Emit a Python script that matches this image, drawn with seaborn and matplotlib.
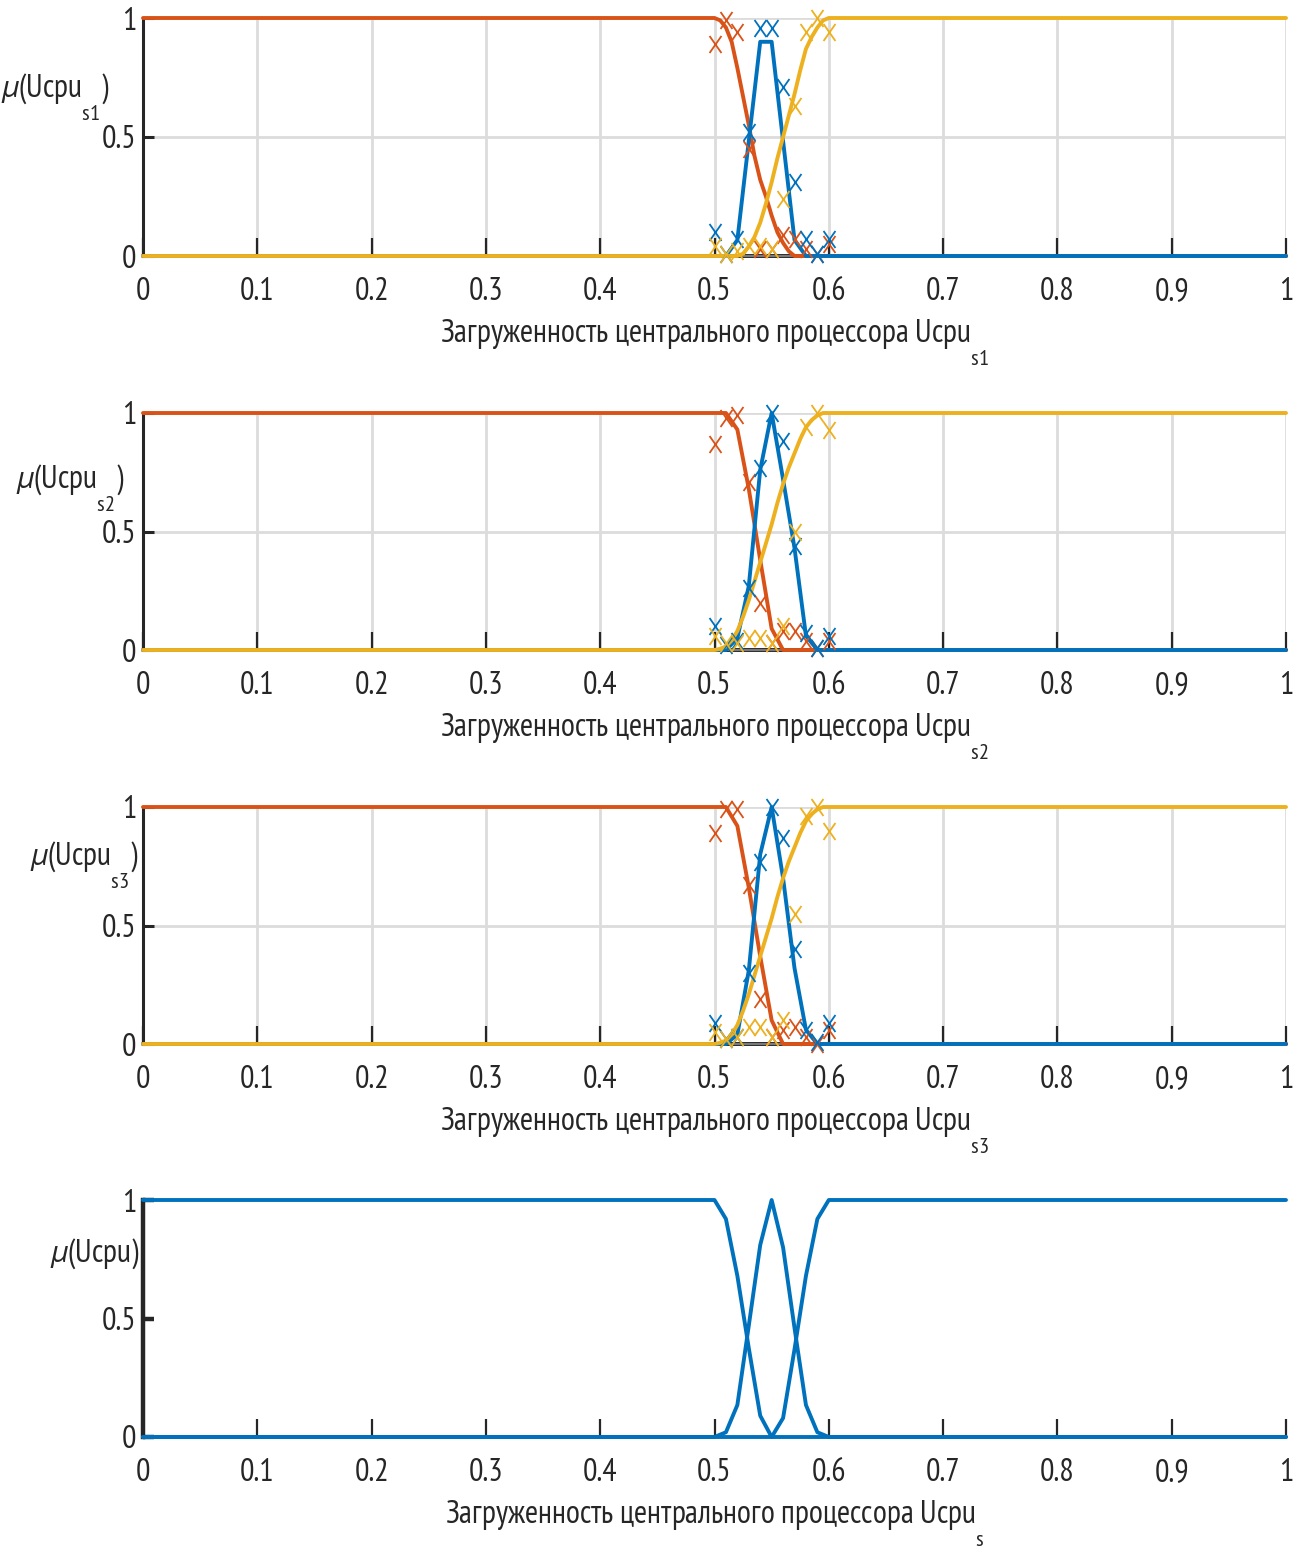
import numpy as np
import pandas as pd
import matplotlib
matplotlib.use("Agg")
import matplotlib.pyplot as plt
from matplotlib.path import Path
from matplotlib.markers import MarkerStyle
from matplotlib import font_manager as fm
import seaborn as sns

# ---------------- data ----------------
x_ticks = [0, 0.1, 0.2, 0.3, 0.4, 0.5, 0.6, 0.7, 0.8, 0.9, 1]
x_tick_labels = ["0", "0.1", "0.2", "0.3", "0.4", "0.5", "0.6", "0.7", "0.8", "0.9", "1"]
y_ticks = [0, 0.5, 1]
y_tick_labels = ["0", "0.5", "1"]
subscripts = ["s1", "s2", "s3", "s"]
xlabel_text = "Загруженность центрального процессора Ucpu"

# sampled points (markers) at 0.50 ... 0.60
marker_x = [0.50, 0.51, 0.52, 0.53, 0.54, 0.55, 0.56, 0.57, 0.58, 0.59, 0.60]

# panel 1
p1_orange_x = [0, 0.5, 0.505, 0.51, 0.515, 0.52, 0.525, 0.53, 0.535, 0.54, 0.545, 0.55, 0.555, 0.56, 0.565, 0.57, 1]
p1_orange_y = [1, 1, 0.99, 0.96, 0.9, 0.79, 0.67, 0.55, 0.42, 0.32, 0.25, 0.17, 0.1, 0.055, 0.02, 0, 0]
p1_blue_x = [0, 0.51, 0.52, 0.54, 0.55, 0.57, 0.58, 1]
p1_blue_y = [0, 0, 0.067, 0.9, 0.9, 0.067, 0.0, 0]
p1_yellow_x = [0, 0.52, 0.525, 0.53, 0.535, 0.54, 0.545, 0.55, 0.555, 0.56, 0.565, 0.57, 0.575, 0.58, 0.585, 0.59, 0.595, 0.6, 1]
p1_yellow_y = [0, 0, 0.01, 0.04, 0.08, 0.14, 0.22, 0.31, 0.41, 0.5, 0.59, 0.68, 0.78, 0.87, 0.92, 0.96, 0.99, 1, 1]
p1_orange_m = [0.89, 0.99, 0.94, 0.45, 0.03, 0.03, 0.09, 0.07, 0.03, 0.01, 0.05]
p1_blue_m = [0.1, 0.01, 0.07, 0.52, 0.96, 0.96, 0.71, 0.31, 0.07, 0.01, 0.07]
p1_yellow_m = [0.04, 0.01, 0.02, 0.04, 0.04, 0.03, 0.24, 0.63, 0.94, 1.0, 0.94]

# panel 2
p2_orange_x = [0, 0.51, 0.52, 0.53, 0.54, 0.55, 0.56, 1]
p2_orange_y = [1, 1, 0.93, 0.68, 0.38, 0.09, 0, 0]
p2_blue_x = [0, 0.51, 0.52, 0.53, 0.54, 0.55, 0.56, 0.57, 0.58, 0.59, 1]
p2_blue_y = [0, 0, 0.05, 0.27, 0.76, 1.0, 0.72, 0.43, 0.06, 0.0, 0]
p2_yellow_x = [0, 0.5, 0.505, 0.51, 0.515, 0.52, 0.525, 0.53, 0.535, 0.54, 0.545, 0.55, 0.555, 0.56, 0.565, 0.57, 0.575, 0.58, 0.585, 0.59, 0.595, 0.6, 1]
p2_yellow_y = [0, 0, 0.005, 0.015, 0.04, 0.08, 0.14, 0.21, 0.29, 0.37, 0.45, 0.53, 0.62, 0.7, 0.77, 0.83, 0.89, 0.94, 0.97, 0.99, 1.0, 1, 1]
p2_orange_m = [0.87, 0.98, 0.99, 0.71, 0.2, 0.03, 0.08, 0.08, 0.04, 0.01, 0.04]
p2_blue_m = [0.1, 0.02, 0.04, 0.26, 0.77, 1.0, 0.88, 0.44, 0.07, 0.01, 0.06]
p2_yellow_m = [0.06, 0.03, 0.03, 0.05, 0.05, 0.03, 0.1, 0.5, 0.94, 1.0, 0.93]

# panel 3
p3_orange_x = [0, 0.51, 0.52, 0.53, 0.54, 0.55, 0.56, 1]
p3_orange_y = [1, 1, 0.92, 0.66, 0.37, 0.1, 0, 0]
p3_blue_x = [0, 0.51, 0.52, 0.53, 0.54, 0.55, 0.56, 0.57, 0.58, 0.59, 1]
p3_blue_y = [0, 0, 0.04, 0.31, 0.8, 1.0, 0.7, 0.32, 0.06, 0.0, 0]
p3_yellow_x = [0, 0.5, 0.505, 0.51, 0.515, 0.52, 0.525, 0.53, 0.535, 0.54, 0.545, 0.55, 0.555, 0.56, 0.565, 0.57, 0.575, 0.58, 0.585, 0.59, 0.595, 0.6, 1]
p3_yellow_y = [0, 0, 0.005, 0.015, 0.04, 0.08, 0.14, 0.21, 0.29, 0.37, 0.45, 0.53, 0.62, 0.7, 0.77, 0.83, 0.89, 0.94, 0.97, 0.99, 1.0, 1, 1]
p3_orange_m = [0.89, 0.99, 0.99, 0.67, 0.19, 0.03, 0.06, 0.07, 0.03, 0.0, 0.06]
p3_blue_m = [0.09, 0.02, 0.03, 0.3, 0.77, 1.0, 0.87, 0.4, 0.06, 0.01, 0.09]
p3_yellow_m = [0.05, 0.02, 0.03, 0.07, 0.07, 0.03, 0.1, 0.55, 0.96, 1.0, 0.9]

# panel 4 (aggregated terms)
p4_low_x = [0, 0.5, 0.51, 0.52, 0.53, 0.54, 0.55, 1]
p4_low_y = [1, 1, 0.92, 0.68, 0.375, 0.09, 0, 0]
p4_mid_x = [0, 0.5, 0.51, 0.52, 0.53, 0.54, 0.55, 0.56, 0.57, 0.58, 0.59, 0.6, 1]
p4_mid_y = [0, 0, 0.02, 0.135, 0.47, 0.81, 1.0, 0.8, 0.46, 0.135, 0.02, 0, 0]
p4_high_x = [0, 0.55, 0.56, 0.57, 0.58, 0.59, 0.6, 1]
p4_high_y = [0, 0, 0.08, 0.37, 0.68, 0.92, 1, 1]

zero_x = [0, 1]
zero_y = [0, 0]

# ---------------- style ----------------
BLUE = "#0072BD"
ORANGE = "#D95319"
YELLOW = "#EDB120"
DARK = "#262626"
GRID = "#dcdcdc"

sns.set_theme(style="white")

_names = {f.name for f in fm.fontManager.ttflist}
if "PT Sans Narrow" in _names:
    CHOSEN, FS = "PT Sans Narrow", 23.0
elif "Roboto Condensed" in _names:
    CHOSEN, FS = "Roboto Condensed", 20.5
else:
    CHOSEN, FS = "Liberation Sans", 19.5
ITAL = "PT Sans" if "PT Sans" in _names else CHOSEN

FONT = [CHOSEN, "Liberation Sans", "DejaVu Sans"]
plt.rcParams["font.family"] = FONT
plt.rcParams["mathtext.fontset"] = "custom"
plt.rcParams["mathtext.rm"] = CHOSEN
plt.rcParams["mathtext.it"] = ITAL + ":italic"

# MATLAB-like deep subscripts
try:
    import matplotlib._mathtext as _mt
    _mt.FontConstantsBase.sub1 = 1.4
    for _c in set(_mt._font_constant_mapping.values()):
        _c.sub1 = 1.4
except Exception:
    pass

xmark = MarkerStyle(Path([(-0.7, -1), (0.7, 1), (-0.7, 1), (0.7, -1)],
                         [Path.MOVETO, Path.LINETO, Path.MOVETO, Path.LINETO]))

fig = plt.figure(figsize=(12.99, 15.46), dpi=100)
W, H = 1299, 1546
left = 143 / W
width = 1143 / W
tops = [18, 413, 807, 1200]
bottoms = [256, 650, 1044, 1437]
ylab_pos = [(-0.029, 0.668), (-0.016, 0.684), (-0.004, 0.755), (-0.003, 0.74)]

LW = 2.8


def line(ax, x, y, c, z=3):
    sns.lineplot(x=x, y=y, ax=ax, color=c, lw=LW, sort=False, estimator=None,
                 clip_on=False, zorder=z, legend=False)


def marks(ax, y, c):
    sns.scatterplot(x=marker_x, y=y, ax=ax, marker=xmark, s=150, color=c,
                    edgecolor=c, linewidth=1.3, clip_on=False, zorder=6, legend=False)


panels = [
    (p1_orange_x, p1_orange_y, p1_blue_x, p1_blue_y, p1_yellow_x, p1_yellow_y, p1_orange_m, p1_blue_m, p1_yellow_m),
    (p2_orange_x, p2_orange_y, p2_blue_x, p2_blue_y, p2_yellow_x, p2_yellow_y, p2_orange_m, p2_blue_m, p2_yellow_m),
    (p3_orange_x, p3_orange_y, p3_blue_x, p3_blue_y, p3_yellow_x, p3_yellow_y, p3_orange_m, p3_blue_m, p3_yellow_m),
]

for i in range(4):
    bottom = 1 - bottoms[i] / H
    height = (bottoms[i] - tops[i]) / H
    ax = fig.add_axes([left, bottom, width, height])
    ax.set_xlim(0, 1)
    ax.set_ylim(0, 1)

    if i < 3:
        ox, oy, bx, by, yx, yy, om, bm, ym = panels[i]
        line(ax, zero_x, zero_y, DARK, z=2)
        line(ax, ox, oy, ORANGE, z=3)
        line(ax, bx, by, BLUE, z=4)
        line(ax, yx, yy, YELLOW, z=5)
        marks(ax, om, ORANGE)
        marks(ax, bm, BLUE)
        marks(ax, ym, YELLOW)
        ax.grid(True, color=GRID, lw=2)
        ax.set_axisbelow(True)
        spine_lw = 2.2
        ytick_w = 2.2
    else:
        line(ax, p4_low_x, p4_low_y, BLUE)
        line(ax, p4_mid_x, p4_mid_y, BLUE)
        line(ax, p4_high_x, p4_high_y, BLUE)
        ax.grid(False)
        spine_lw = 3.2
        ytick_w = 3.2

    ax.set_xticks(x_ticks)
    ax.set_xticklabels(x_tick_labels)
    ax.set_yticks(y_ticks)
    ax.set_yticklabels(y_tick_labels)
    ax.tick_params(axis="x", direction="in", length=13, width=1.6, color=DARK,
                   labelsize=FS, pad=15, labelcolor=DARK, bottom=True)
    ax.tick_params(axis="y", direction="in", length=8, width=ytick_w, color=DARK,
                   labelsize=FS, pad=5, labelcolor=DARK, left=True)
    for lab in ax.get_xticklabels() + ax.get_yticklabels():
        lab.set_family(FONT)

    ax.spines["top"].set_visible(False)
    ax.spines["right"].set_visible(False)
    ax.spines["left"].set_color(DARK)
    ax.spines["left"].set_linewidth(spine_lw)
    ax.spines["bottom"].set_color("#8a8a8a")
    ax.spines["bottom"].set_linewidth(1.2)
    ax.set_facecolor("white")

    ax.set_xlabel(xlabel_text + r"$_{\mathrm{" + subscripts[i] + r"}}$", fontsize=FS, color=DARK,
                  family=FONT)
    ax.xaxis.set_label_coords(0.5, -(86 / (bottoms[i] - tops[i])))
    ax.xaxis.label.set_va("baseline")
    ax.set_ylabel("")

    sub = subscripts[i]
    ylab = (r"$\mathit{\mu}$(Ucpu$_{\mathrm{" + sub + r"}}$)") if i < 3 else r"$\mathit{\mu}$(Ucpu)"
    xl, yl = ylab_pos[i]
    ax.text(xl, yl, ylab, transform=ax.transAxes, ha="right", va="baseline",
            fontsize=FS, color=DARK, family=FONT)

fig.savefig("out.png", dpi=100, facecolor="white")
